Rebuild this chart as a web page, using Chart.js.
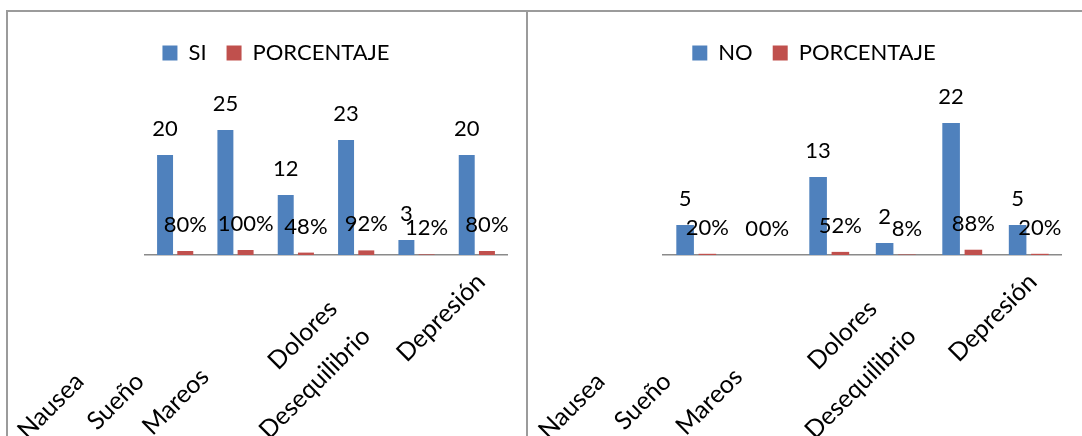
<!DOCTYPE html>
<html>
<head>
<meta charset="utf-8">
<script src="https://cdn.jsdelivr.net/npm/chart.js@4"></script>
<style>
  html, body { margin: 0; padding: 0; background: #fff; width: 1082px; height: 436px; overflow: hidden; }
  .frame { position: absolute; box-sizing: border-box; border: 2px solid #9b9b9b; height: 520px; }
  canvas { position: absolute; }
</style>
</head>
<body>
<div class="frame" style="left:6px; top:10px; width:522px;"></div>
<div class="frame" style="left:526px; top:10px; width:620px;"></div>
<canvas id="chartSi" width="518" height="424" style="left:8px; top:12px;"></canvas>
<canvas id="chartNo" width="534" height="424" style="left:528px; top:12px;"></canvas>
<script>
var categories = ["Nausea", "Sueño", "Mareos", "Dolores", "Desequilibrio", "Depresión"];
var siValues = [20, 25, 12, 23, 3, 20];
var siPercent = [0.80, 1.00, 0.48, 0.92, 0.12, 0.80];
var noValues = [5, 0, 13, 2, 22, 5];
var noPercent = [0.20, 0.00, 0.52, 0.08, 0.88, 0.20];

// trailing blanks the spreadsheet labels carry (shifts them along the slant)
var labelTrail = [22, 22, 21, 6, 12, 0];

var BLUE = "#4f81bd";
var RED = "#c0504d";
var FONT = 22;
var TICK_FONT = 25;
var CANVAS_H = 424;
var PLOT_BOTTOM = 243;

var valueLabels = {
  id: "valueLabels",
  afterDatasetsDraw: function (chart) {
    var ctx = chart.ctx;
    ctx.save();
    ctx.font = FONT + "px Lato";
    ctx.fillStyle = "#000";
    ctx.textAlign = "center";
    ctx.textBaseline = "middle";
    chart.data.datasets.forEach(function (ds, di) {
      chart.getDatasetMeta(di).data.forEach(function (bar, i) {
        var v = ds.data[i];
        var txt = di === 1 ? Math.round(v * 100) + "%" : String(v);
        ctx.fillText(txt, bar.x, bar.y - 26);
      });
    });
    ctx.restore();
  }
};

function makeChart(id, countLabel, counts, percents, yMax, padLeft, padRight, yWidth) {
  var ctx = document.getElementById(id).getContext("2d");
  return new Chart(ctx, {
    type: "bar",
    data: {
      labels: categories,
      datasets: [
        { label: countLabel, data: counts, backgroundColor: BLUE, borderWidth: 0,
          categoryPercentage: 0.67, barPercentage: 0.79 },
        { label: "PORCENTAJE", data: percents, backgroundColor: RED, borderWidth: 0,
          categoryPercentage: 0.67, barPercentage: 0.79 }
      ]
    },
    options: {
      responsive: false,
      animation: false,
      layout: { padding: { left: padLeft, right: padRight, top: 10, bottom: 0 } },
      plugins: {
        legend: {
          position: "top",
          labels: { boxWidth: 15, boxHeight: 15, padding: 20, color: "#000", font: { size: FONT } }
        },
        title: { display: true, text: "", weight: 500, padding: 0, font: { size: 31, lineHeight: 1 } },
        tooltip: { enabled: false }
      },
      scales: {
        x: {
          grid: { display: false, drawTicks: false },
          border: { display: true, color: "#8a8a8a", width: 1.5 },
          ticks: {
            autoSkip: false, minRotation: 45, maxRotation: 45, padding: 12, labelOffset: 4,
            color: "#000", font: { size: TICK_FONT },
            callback: function (v, i) { return categories[i] + " ".repeat(labelTrail[i]); }
          },
          afterFit: function (s) {
            s.height = CANVAS_H - PLOT_BOTTOM;
            s.paddingLeft = 0;
            s.paddingRight = 0;
          }
        },
        y: {
          min: 0, max: yMax,
          ticks: { display: false },
          grid: { display: false },
          border: { display: false },
          afterFit: function (s) { s.width = yWidth; }
        }
      }
    },
    plugins: [valueLabels]
  });
}

function draw() {
  Chart.defaults.font.family = "Lato";
  makeChart("chartSi", "SI", siValues, siPercent, 30, 37, 19, 100);
  makeChart("chartNo", "NO", noValues, noPercent, 25, 38, 0, 97);
}

if (document.fonts && document.fonts.load) {
  document.fonts.load(FONT + "px Lato").then(draw, draw);
} else {
  draw();
}
</script>
</body>
</html>
